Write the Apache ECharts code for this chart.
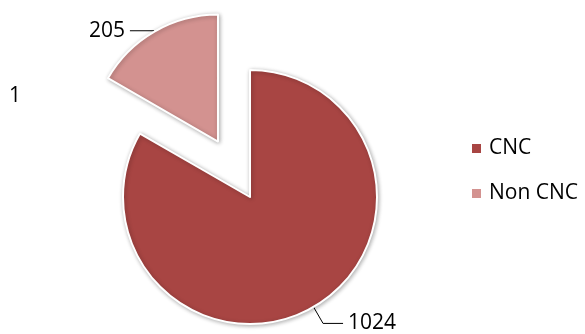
<!DOCTYPE html>
<html>
<head>
<meta charset="utf-8">
<script src="https://cdn.jsdelivr.net/npm/echarts@6/dist/echarts.min.js"></script>
<style>
  html, body { margin: 0; padding: 0; background: #fff; }
  #chart { width: 585px; height: 334px; }
</style>
</head>
<body>
<div id="chart"></div>
<script>
// Machine counts by type
const categories = ['CNC', 'Non CNC'];
const counts = [1024, 205];
const colors = ['#A84543', '#D39290'];

const FONT = "'Open Sans', 'Liberation Sans', sans-serif";

// Leader line shape per slice: the large slice gets an angled elbow,
// the exploded slice a short flat tick.
const leaderLines = {
  'CNC': { length: 19, length2: 20 },
  'Non CNC': { length: 1, length2: 24 }
};

const chart = echarts.init(document.getElementById('chart'), null, { renderer: 'canvas' });

const pieData = categories.map((name, i) => ({
  name: name,
  value: counts[i],
  selected: name === 'Non CNC',
  itemStyle: { color: colors[i] },
  labelLine: leaderLines[name]
}));

chart.setOption({
  animation: false,
  backgroundColor: '#ffffff',
  graphic: [{
    type: 'text',
    left: 9,
    top: 86,
    style: { text: '1', fontSize: 21, fontFamily: FONT, fill: '#000' }
  }],
  legend: {
    orient: 'vertical',
    left: 465,
    top: 133,
    icon: 'rect',
    itemWidth: 11,
    itemHeight: 11,
    itemGap: 24,
    selectedMode: false,
    textStyle: { fontSize: 21, fontFamily: FONT, color: '#000', padding: [0, 0, 0, 2] },
    data: categories
  },
  series: [{
    type: 'pie',
    center: [250, 197],
    radius: 127,
    startAngle: 90,
    clockwise: true,
    selectedMode: 'single',
    selectedOffset: 64,
    avoidLabelOverlap: false,
    itemStyle: {
      borderColor: '#ffffff',
      borderWidth: 2,
      shadowBlur: 4,
      shadowOffsetX: 1,
      shadowOffsetY: 1,
      shadowColor: 'rgba(0,0,0,0.3)'
    },
    label: {
      show: true,
      position: 'outside',
      formatter: '{c}',
      fontSize: 21,
      fontFamily: FONT,
      color: '#000',
      padding: [0, 0, 18, 0],
      distanceToLabelLine: 5
    },
    labelLine: {
      show: true,
      smooth: false,
      lineStyle: { color: '#000', width: 1 }
    },
    emphasis: { disabled: true },
    data: pieData
  }]
});
</script>
</body>
</html>
